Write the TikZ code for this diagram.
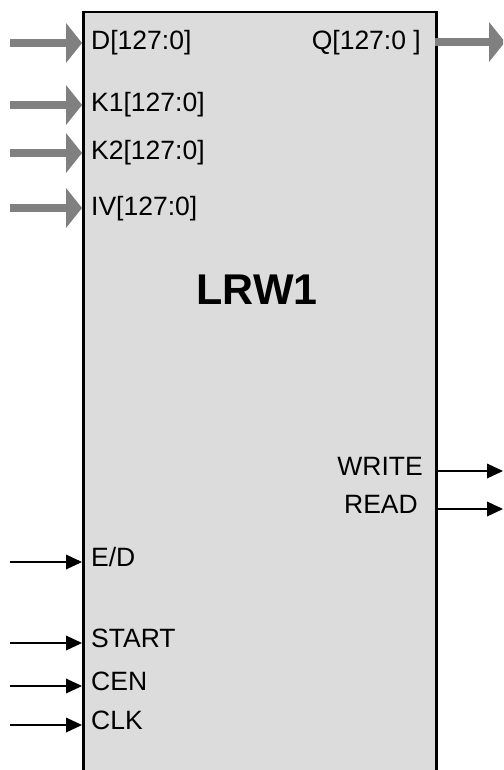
\documentclass[tikz,border=0pt]{standalone}
\usepackage{fontspec}
\setmainfont{Liberation Sans}
\usetikzlibrary{arrows.meta}
\definecolor{boxfill}{RGB}{220,220,220}
\definecolor{busgray}{RGB}{128,128,128}
\tikzset{
  lbl/.style={inner sep=0pt, font=\fontsize{26.5}{31}\selectfont},
  busarrow/.style={draw=busgray, line width=8pt, -{Triangle[length=16pt,width=40pt,line width=0pt,fill=busgray]}},
  sigarrow/.style={draw=black, line width=2pt, -{Triangle[length=16pt,width=15pt,line width=0pt]}},
}
\begin{document}
\begin{tikzpicture}[x=1pt,y=-1pt]
\clip (0,0) rectangle (503,770);
\useasboundingbox (0,0) rectangle (503,770);
\fill[white] (0,0) rectangle (503,770);
\node[draw=black, line width=2.5pt, fill=boxfill, inner sep=0pt, minimum width=353pt, minimum height=780pt, anchor=north west] (box) at (82,11) {};
\node[font=\fontsize{43}{50}\selectfont\bfseries, inner sep=0pt] (title) at (257,289.5) {LRW1};
% left edge coordinates
\foreach \n/\y in {d/43,ka/105,kb/153,iv/208,ed/562,st/643,ce/686,ck/725}{
  \coordinate (\n E) at (82,\y);
}
\foreach \n/\y in {d/43,ka/105,kb/153,iv/208}{
  \coordinate (\n S) at (10,\y);
}
\foreach \n/\y in {ed/562,st/643,ce/686,ck/725}{
  \coordinate (\n S) at (10,\y);
}
\coordinate (qS) at (435,42);
\coordinate (qE) at (505,42);
\coordinate (wS) at (435,471);
\coordinate (wE) at (503,471);
\coordinate (rS) at (435,509);
\coordinate (rE) at (503,509);
% labels
\node[lbl, anchor=base west] (ld) at (91,50) {D[127:0]};
\node[lbl, anchor=base west] (lka) at (91,112) {K1[127:0]};
\node[lbl, anchor=base west] (lkb) at (91,160) {K2[127:0]};
\node[lbl, anchor=base west] (liv) at (91,215) {IV[127:0]};
\node[lbl, anchor=base east] (lq) at (421,50) {Q[127:0 ]};
\node[lbl, anchor=base east] (lw) at (423,475) {WRITE};
\node[lbl, anchor=base east] (lr) at (418,513) {READ};
\node[lbl, anchor=base west] (led) at (91,566) {E/D};
\node[lbl, anchor=base west] (lst) at (91,647) {START};
\node[lbl, anchor=base west] (lce) at (91,690) {CEN};
\node[lbl, anchor=base west] (lck) at (91,729) {CLK};
% arrows
\foreach \n in {d,ka,kb,iv}{ \draw[busarrow] (\n S) -- (\n E); }
\draw[busarrow] (qS) -- (qE);
\foreach \n in {ed,st,ce,ck}{ \draw[sigarrow] (\n S) -- (\n E); }
\draw[sigarrow] (wS) -- (wE);
\draw[sigarrow] (rS) -- (rE);
\end{tikzpicture}
\end{document}
